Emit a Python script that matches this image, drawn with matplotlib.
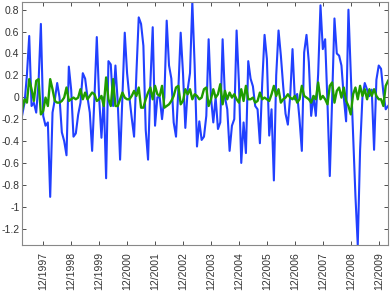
import numpy as np
import matplotlib
matplotlib.use('Agg')
from matplotlib import pyplot as plt

# monthly series, starting 3/1997
blue = [-0.16, -0.05, 0.20, 0.56, -0.08, -0.05, -0.14, 0.13, 0.67, -0.17,
        -0.26, -0.23, -0.91, -0.14, -0.02, 0.13, 0.00, -0.32, -0.40, -0.53,
        0.28, 0.07, -0.36, -0.33, -0.16, -0.05, 0.22, 0.17, 0.00, -0.14,
        -0.49, 0.00, 0.55, 0.00, -0.37, 0.00, -0.74, 0.33, 0.30, -0.08,
        0.29, -0.05, -0.57, 0.00, 0.59, 0.22, 0.00, -0.19, -0.36, 0.22,
        0.73, 0.67, 0.47, -0.30, -0.57, 0.13, 0.64, -0.26, 0.00, 0.00,
        -0.20, 0.00, 0.70, 0.29, 0.17, -0.23, -0.36, 0.07, 0.59, 0.22,
        -0.28, 0.07, 0.22, 0.87, 0.29, -0.45, -0.22, -0.39, -0.36, -0.17,
        0.53, 0.00, -0.23, 0.00, -0.29, -0.23, 0.53, 0.00, -0.11, -0.49,
        -0.26, -0.20, 0.61, 0.13, -0.60, -0.23, -0.51, 0.33, 0.17, 0.10,
        -0.08, -0.11, -0.42, 0.13, 0.57, 0.35, -0.35, -0.11, -0.76, 0.20,
        0.61, 0.38, 0.10, -0.15, -0.25, 0.01, 0.44, -0.02, 0.03, -0.20,
        -0.49, 0.41, 0.57, 0.32, -0.17, 0.01, -0.17, 0.21, 0.84, 0.44,
        0.53, -0.05, -0.72, -0.02, 0.72, 0.40, 0.38, 0.29, 0.00, -0.22,
        0.80, 0.22, -0.33, -0.90, -1.35, -0.48, 0.00, 0.13, 0.07, 0.01,
        0.07, -0.48, 0.16, 0.29, 0.26, 0.04, -0.11, -0.08]

green_px = [330, 300, 310, 240, 270, 305, 245, 240, 345, 335, 295, 320, 240,
            270, 305, 310, 310, 305, 295, 265, 305, 300, 295, 300, 295, 270,
            300, 280, 300, 290, 280, 285, 305, 300, 290, 320, 235, 300, 320,
            240, 320, 320, 300, 280, 295, 300, 300, 290, 275, 290, 265, 325,
            325, 300, 280, 265, 300, 260, 285, 290, 260, 325, 320, 315, 305,
            290, 265, 260, 315, 305, 270, 285, 270, 300, 285, 290, 300, 295,
            270, 265, 320, 300, 270, 295, 285, 255, 315, 275, 300, 280, 295,
            285, 300, 310, 270, 305, 260, 300, 300, 295, 310, 305, 280, 300,
            295, 300, 305, 285, 260, 290, 270, 310, 300, 295, 285, 295, 300,
            290, 310, 300, 260, 290, 295, 300, 310, 290, 300, 250, 300, 290,
            300, 315, 260, 250, 310, 275, 265, 295, 265, 305, 320, 345, 285,
            265, 300, 260, 290, 270, 300, 270, 290, 270, 290, 300, 300, 320,
            260, 245]
# values (zoomed pixel rows -> data units)
green = [(294 - p) / 326.0 for p in green_px]

ytick_vals = [-1.2, -1.0, -0.8, -0.6, -0.4, -0.2, 0.0, 0.2, 0.4, 0.6, 0.8]
ytick_labels = ['-1.2', '-1', '-0.8', '-0.6', '-0.4', '-0.2', '0',
                '0.2', '0.4', '0.6', '0.8']
tick_pos = list(range(9, 158, 12))
tick_labels = ['12/%d' % y for y in range(1997, 2010)]

plt.rcParams['font.family'] = ['Liberation Sans', 'DejaVu Sans']

fig = plt.figure(figsize=(3.9, 2.91), dpi=100)
ax = fig.add_axes([0.057, 0.158, 0.938, 0.835])

x = np.arange(len(blue))
ax.plot(x, blue, color='#2140ff', lw=1.5)
ax.plot(np.arange(len(green)), green, color='#1f9c00', lw=1.7)

ax.set_xlim(0, len(blue) - 1)
ax.set_ylim(min(blue), max(blue))
ax.set_yticks(ytick_vals)
ax.set_yticklabels(ytick_labels)
ax.set_xticks(tick_pos)
ax.set_xticklabels(tick_labels, rotation=90)

ax.tick_params(direction='in', length=3, width=0.6, labelsize=7.5,
               top=True, right=True, colors='#333333', pad=2)
ax.tick_params(axis='x', pad=5, labelsize=7.5)
for s in ax.spines.values():
    s.set_color('#888888')
    s.set_linewidth(0.8)

fig.savefig('out.png', dpi=100)
